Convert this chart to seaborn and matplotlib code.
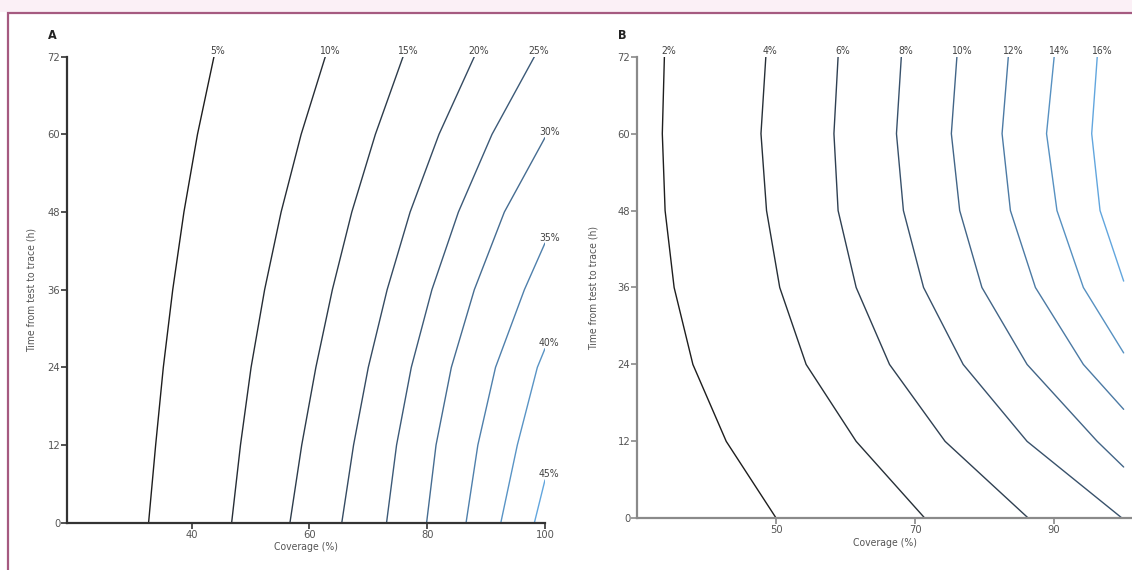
import pandas as pd
import seaborn as sns
import matplotlib.pyplot as plt
from matplotlib.patches import Rectangle

# Panel A: coverage needed for each reduction, at hours from test to trace
a_labels = ["5%", "10%", "15%", "20%", "25%", "30%", "35%", "40%", "45%"]
a_hours = [
    [72, 60, 48, 36, 24, 12, 0],
    [72, 60, 48, 36, 24, 12, 0],
    [72, 60, 48, 36, 24, 12, 0],
    [72, 60, 48, 36, 24, 12, 0],
    [72, 60, 48, 36, 24, 12, 0],
    [59.5, 48, 36, 24, 12, 0],
    [43.2, 36, 24, 12, 0],
    [26.9, 24, 12, 0],
    [6.6, 0],
]
a_coverage = [
    [43.8, 41.0, 38.7, 36.8, 35.2, 33.9, 32.7],
    [62.7, 58.6, 55.2, 52.4, 50.1, 48.3, 46.8],
    [75.9, 71.2, 67.2, 63.9, 61.1, 58.7, 56.7],
    [88.0, 82.0, 77.1, 73.2, 70.0, 67.5, 65.5],
    [98.2, 91.0, 85.3, 80.8, 77.3, 74.8, 73.1],
    [100, 93.1, 88.0, 84.1, 81.5, 79.9],
    [100, 96.5, 91.6, 88.6, 86.6],
    [100, 98.7, 95.3, 92.5],
    [100, 98.2],
]

# Panel B
b_labels = ["2%", "4%", "6%", "8%", "10%", "12%", "14%", "16%"]
b_hours = [
    [72, 60, 48, 36, 24, 12, 0],
    [72, 60, 48, 36, 24, 12, 0],
    [72, 60, 48, 36, 24, 12, 0],
    [72, 60, 48, 36, 24, 12, 0],
    [72, 60, 48, 36, 24, 12, 8],
    [72, 60, 48, 36, 24, 17],
    [72, 60, 48, 36, 25.8],
    [72, 60, 48, 37],
]
b_coverage = [
    [33.9, 33.6, 34.0, 35.3, 38.0, 42.8, 50.0],
    [48.5, 47.8, 48.6, 50.5, 54.3, 61.5, 71.4],
    [58.9, 58.3, 58.9, 61.5, 66.3, 74.3, 86.3],
    [68.0, 67.3, 68.3, 71.2, 76.9, 86.1, 99.8],
    [76.0, 75.2, 76.4, 79.6, 86.1, 96.2, 100],
    [83.4, 82.5, 83.7, 87.3, 94.2, 100],
    [90.0, 88.9, 90.4, 94.2, 100],
    [96.2, 95.4, 96.6, 100],
]

y_ticks = [0, 12, 24, 36, 48, 60, 72]
a_xticks = [40, 60, 80, 100]
b_xticks = [50, 70, 90]


def make_df(labels, hours, coverage):
    rows = []
    for lab, hs, cs in zip(labels, hours, coverage):
        for h, c in zip(hs, cs):
            rows.append({"curve": lab, "hours": h, "coverage": c})
    return pd.DataFrame(rows)


sns.set_theme(style="white")
plt.rcParams["font.family"] = ["DejaVu Sans"]
plt.rcParams["font.stretch"] = "condensed"

fig = plt.figure(figsize=(11.32, 5.7), dpi=100)
W, H = 1132, 570

# maroon frame around the figure, cropped at right/bottom
fig.patches.append(Rectangle((0, (H - 12) / H), 1, 12 / H, transform=fig.transFigure,
                             fc="#fbf0f6", ec="none", zorder=0))
fig.patches.append(Rectangle((8 / W, -0.1), 1.2, (H - 13) / H + 0.1, transform=fig.transFigure,
                             fill=False, ec="#a55a80", lw=1.6, zorder=0))

ax_a = fig.add_axes([67.3 / W, (H - 522.7) / H, (545 - 67.3) / W, 466 / H])
ax_b = fig.add_axes([637.3 / W, (H - 518.3) / H, (1132 - 637.3) / W, 461.6 / H])

text_col = "#555555"

panels = [
    (ax_a, a_labels, a_hours, a_coverage, (18.9, 100), a_xticks, "A", "#333333", 8),
    (ax_b, b_labels, b_hours, b_coverage, (30, 101.2), b_xticks, "B", "#8a8a8a", 14),
]

for ax, labels, hours, coverage, xlim, xticks, letter, spine_col, ypad in panels:
    df = make_df(labels, hours, coverage)
    pal = sns.blend_palette(["#1e1e1e", "#3c5a78", "#62a6de"], len(labels))
    sns.lineplot(data=df, x="coverage", y="hours", hue="curve", palette=pal,
                 sort=False, estimator=None, lw=1.0, legend=False, ax=ax)

    for lab, hs, cs in zip(labels, hours, coverage):
        ax.annotate(lab, (cs[0], hs[0]), xytext=(3, 4), textcoords="offset points",
                    ha="center", va="center", fontsize=7.5, color="#444444")

    ax.set_xlim(*xlim)
    ax.set_ylim(0, 72)
    ax.set_xticks(xticks)
    ax.set_yticks(y_ticks)
    ax.set_xlabel("Coverage (%)", fontsize=7.5, color=text_col, labelpad=2)
    ax.set_ylabel("Time from test to trace (h)", fontsize=7.5, color=text_col, labelpad=ypad)
    ax.tick_params(axis="both", direction="out", length=4, width=1.2, color=spine_col,
                   labelsize=8, labelcolor=text_col, pad=1,
                   left=True, bottom=True)
    sns.despine(ax=ax)
    for side in ["left", "bottom"]:
        ax.spines[side].set_color(spine_col)
        ax.spines[side].set_linewidth(1.6)
    ax.text(-0.04, 1.045, letter, transform=ax.transAxes, fontsize=9, fontweight="bold",
            color="#222222", ha="left", va="center")

fig.savefig("out.png", dpi=100)
